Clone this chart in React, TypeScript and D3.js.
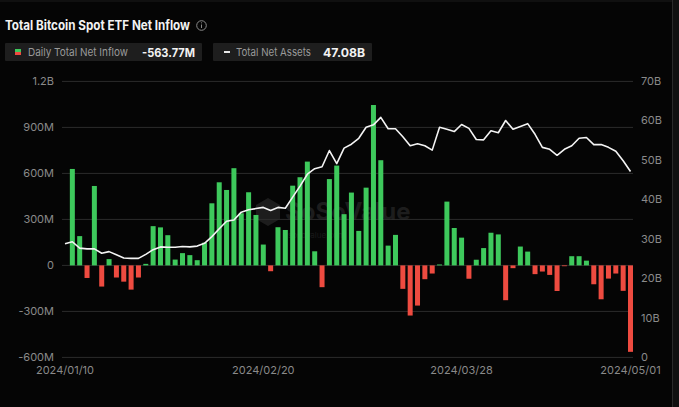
import React from "react";
import * as d3 from "d3";

const W = 679;
const H = 407;

// trading dates (01/10 has only net assets)
const dates: string[] = [
  "2024/01/10","2024/01/11","2024/01/12","2024/01/16","2024/01/17","2024/01/18","2024/01/19","2024/01/22","2024/01/23","2024/01/24","2024/01/25","2024/01/26","2024/01/29","2024/01/30","2024/01/31",
  "2024/02/01","2024/02/02","2024/02/05","2024/02/06","2024/02/07","2024/02/08","2024/02/09","2024/02/12","2024/02/13","2024/02/14","2024/02/15","2024/02/16","2024/02/20","2024/02/21","2024/02/22","2024/02/23","2024/02/26","2024/02/27","2024/02/28","2024/02/29",
  "2024/03/01","2024/03/04","2024/03/05","2024/03/06","2024/03/07","2024/03/08","2024/03/11","2024/03/12","2024/03/13","2024/03/14","2024/03/15","2024/03/18","2024/03/19","2024/03/20","2024/03/21","2024/03/22","2024/03/25","2024/03/26","2024/03/27","2024/03/28",
  "2024/04/01","2024/04/02","2024/04/03","2024/04/04","2024/04/05","2024/04/08","2024/04/09","2024/04/10","2024/04/11","2024/04/12","2024/04/15","2024/04/16","2024/04/17","2024/04/18","2024/04/19","2024/04/22","2024/04/23","2024/04/24","2024/04/25","2024/04/26","2024/04/29","2024/04/30","2024/05/01",
];

// daily total net inflow, millions USD (null = no data)
const netInflow: (number | null)[] = [
  null,
  629, 191, -82, 518, -138, 41, -79, -106, -158, -79, 10, 256, 248, 197,
  38, 80, 67, 34, 148, 405, 542, 492, 634, 340, 477, 329, 136, -38, 249, 231, 520, 575, 677, 92,
  -142, 563, 651, 334, 475, 225, 507, 1046, 686, 129, 199, -153, -327, -262, -90, -53, 6, 416, 244, 181,
  -87, 37, 113, 213, 202, -227, -18, 123, 90, -57, -40, -62, -167, -3, 60, 60, 31, -123, -221, -86, -53, -166, -563.77,
];

// total net assets, billions USD
const netAssets: number[] = [
  28.8,
  29.3, 27.7, 27.5, 27.5, 26.4, 26.8, 26.0, 25.2, 25.1, 25.1, 26.1, 27.3, 28.0, 27.9,
  27.9, 28.1, 28.0, 28.2, 28.9, 30.6, 32.6, 34.5, 34.8, 36.8, 37.4, 37.7, 38.0, 37.2, 38.0, 37.8, 40.6, 43.4, 46.4, 47.8,
  48.3, 52.4, 49.1, 53.0, 54.0, 55.5, 58.3, 58.9, 60.8, 57.9, 57.9, 55.9, 53.6, 54.1, 53.6, 52.5, 58.3, 57.8, 57.2, 59.0,
  58.0, 55.2, 55.1, 57.4, 56.9, 60.0, 57.8, 58.5, 59.2, 56.5, 53.2, 52.7, 51.2, 52.7, 53.6, 55.5, 55.7, 53.9, 53.9, 53.2, 52.2, 49.8, 47.08,
];

const leftTicks: number[] = [-600, -300, 0, 300, 600, 900, 1200];
const leftTickLabels: string[] = ["-600M", "-300M", "0", "300M", "600M", "900M", "1.2B"];
const rightTicks: number[] = [0, 10, 20, 30, 40, 50, 60, 70];
const rightTickLabels: string[] = ["0", "10B", "20B", "30B", "40B", "50B", "60B", "70B"];
const xTickLabels: string[] = ["2024/01/10", "2024/02/20", "2024/03/28", "2024/05/01"];

const GREEN = "#3ec95c";
const RED = "#ee4b40";
const GRID = "#2c2c2c";
const AXIS_TEXT = "#8a8a8a";
const FONT = "Inter, 'Noto Sans', sans-serif";

export default function App() {
  const x = d3.scalePoint<string>().domain(dates).range([65, 630.5]);
  const yL = d3.scaleLinear().domain([-600, 1200]).range([357.4, 81.4]);
  const yR = d3.scaleLinear().domain([0, 70]).range([357.5, 81]);
  const barW = 5;
  const plotL = 62;
  const plotR = 633;

  const line = d3
    .line<number>()
    .x((_, i) => x(dates[i]) as number)
    .y((v) => yR(v))
    .curve(d3.curveLinear);

  return (
    <div style={{ position: "fixed", left: 0, top: 0, width: W, height: H, background: "#050505" }}>
      <svg width={W} height={H} style={{ display: "block" }} fontFamily={FONT}>
        <rect x={0} y={0} width={W} height={H} fill="#050505" />
        <rect x={672} y={0} width={7} height={H} fill="#101010" />
        <line x1={672.5} x2={672.5} y1={0} y2={H} stroke="#2a2a2a" />
        <line x1={0} x2={672} y1={1} y2={1} stroke="#1c1c1c" />

        {/* title */}
        <text x={5} y={30} fill="#f2f2f2" fontSize={13} fontWeight={700} textLength={185} lengthAdjust="spacingAndGlyphs">
          Total Bitcoin Spot ETF Net Inflow
        </text>
        <circle cx={201.5} cy={25.5} r={4.8} fill="none" stroke="#8a8a8a" strokeWidth={1} />
        <line x1={201.5} x2={201.5} y1={24.5} y2={28} stroke="#8a8a8a" strokeWidth={1} />
        <circle cx={201.5} cy={22.8} r={0.6} fill="#8a8a8a" />

        {/* legend */}
        <rect x={5} y={43} width={197} height={18} fill="#1e1e1e" rx={1} />
        <rect x={15} y={49} width={6} height={3} fill={GREEN} />
        <rect x={15} y={52} width={6} height={3} fill={RED} />
        <text x={28} y={56} fill="#9a9a9a" fontSize={11} textLength={100} lengthAdjust="spacingAndGlyphs">Daily Total Net Inflow</text>
        <text x={142} y={56.5} fill="#f2f2f2" fontSize={12} fontWeight={700} textLength={53} lengthAdjust="spacingAndGlyphs">-563.77M</text>

        <rect x={213} y={43} width={159} height={18} fill="#1e1e1e" rx={1} />
        <line x1={224} x2={230} y1={52} y2={52} stroke="#e8e8e8" strokeWidth={2} />
        <text x={236} y={56} fill="#9a9a9a" fontSize={11} textLength={75} lengthAdjust="spacingAndGlyphs">Total Net Assets</text>
        <text x={323} y={56.5} fill="#f2f2f2" fontSize={12} fontWeight={700} textLength={42} lengthAdjust="spacingAndGlyphs">47.08B</text>

        {/* gridlines */}
        {leftTicks.map((t) => (
          <line key={t} x1={plotL} x2={plotR} y1={yL(t)} y2={yL(t)} stroke={GRID} strokeWidth={1} />
        ))}

        {/* watermark */}
        <g opacity={0.6}>
          <path d="M268 198 L280 205 L280 219 L268 226 L256 219 L256 205 Z" fill="#2e2e2e" />
          <text x={285} y={220} fill="#2e2e2e" fontSize={24} fontWeight={700}>SoSoValue</text>
          <text x={288} y={238} fill="#262626" fontSize={8}>sosovalue.com</text>
        </g>

        {/* bars */}
        {netInflow.map((v, i) =>
          v === null ? null : (
            <rect
              key={dates[i]}
              x={(x(dates[i]) as number) - barW / 2}
              y={yL(Math.max(0, v))}
              width={barW}
              height={Math.max(0.8, Math.abs(yL(v) - yL(0)))}
              fill={v >= 0 ? GREEN : RED}
            />
          )
        )}

        {/* net assets line */}
        <path d={line(netAssets) || ""} fill="none" stroke="#f4f4f4" strokeWidth={1.6} strokeLinejoin="round" />

        {/* left axis labels */}
        {leftTicks.map((t, i) => (
          <text key={t} x={54} y={yL(t) + 4} fill={AXIS_TEXT} fontSize={11} textAnchor="end">
            {leftTickLabels[i]}
          </text>
        ))}

        {/* right axis labels */}
        {rightTicks.map((t, i) => (
          <text key={t} x={641} y={yR(t) + 3.5} fill={AXIS_TEXT} fontSize={11} textAnchor="start">
            {rightTickLabels[i]}
          </text>
        ))}

        {/* x axis labels */}
        {xTickLabels.map((d) => (
          <text key={d} x={x(d) as number} y={374} fill={AXIS_TEXT} fontSize={11} textAnchor="middle">
            {d}
          </text>
        ))}
      </svg>
    </div>
  );
}
